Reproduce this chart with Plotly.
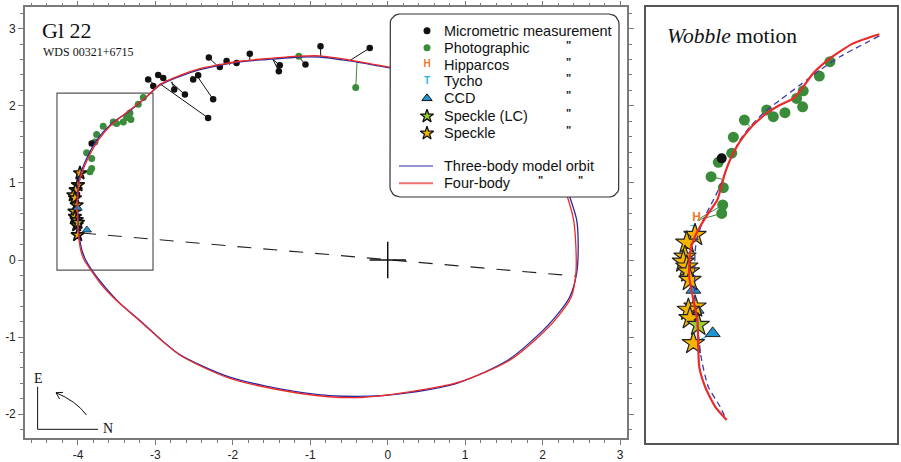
import numpy as np
import plotly.graph_objects as go

W, H = 901, 462

# ---------------- MAIN PANEL DATA (arcsec) ----------------
orbit3_x = [0.026, 0.41, 0.80, 1.19, 1.57, 1.90, 2.12, 2.26, 2.35, 2.44, 2.46, 2.44, 2.35, 2.13, 1.87,
            1.55, 0.92, 0.28, -0.40, -1.10, -2.04, -2.68, -2.92, -3.16, -3.48, -3.66, -3.80, -3.90, -3.95,
            -3.975, -3.990, -4.002, -4.010, -4.000, -3.974, -3.930, -3.867, -3.759, -3.565, -3.351, -3.135,
            -2.942, -2.684, -2.426, -2.168, -1.910, -1.565, -1.135, -0.877, -0.490, 0.026]
orbit3_y = [2.491, 2.42, 2.31, 2.16, 1.94, 1.68, 1.36, 1.06, 0.82, 0.52, 0.17, -0.17, -0.48, -0.78, -1.04,
            -1.30, -1.59, -1.72, -1.77, -1.72, -1.52, -1.23, -1.04, -0.82, -0.54, -0.34, -0.16, 0.0, 0.13,
            0.25, 0.36, 0.58, 0.80, 0.97, 1.10, 1.22, 1.36, 1.554, 1.771, 1.921, 2.095,
            2.267, 2.383, 2.470, 2.526, 2.569, 2.600, 2.633, 2.633, 2.582, 2.491]

orbit4_x = [0.026, 0.41, 0.80, 1.19, 1.57, 1.88, 2.09, 2.23, 2.32, 2.40, 2.43, 2.43, 2.37, 2.16, 1.89,
            1.56, 0.92, 0.28, -0.40, -1.10, -2.04, -2.68, -2.93, -3.19, -3.51, -3.69, -3.82, -3.92, -3.965,
            -3.985, -3.997, -4.005, -4.005, -3.990, -3.960, -3.915, -3.855, -3.745, -3.560, -3.350, -3.130,
            -2.940, -2.684, -2.426, -2.168, -1.910, -1.565, -1.135, -0.877, -0.490, 0.026]
orbit4_y = [2.500, 2.43, 2.315, 2.16, 1.935, 1.675, 1.36, 1.06, 0.82, 0.52, 0.17, -0.17, -0.48, -0.78, -1.05,
            -1.31, -1.585, -1.71, -1.785, -1.735, -1.535, -1.235, -1.035, -0.80, -0.52, -0.33, -0.15, 0.0, 0.13,
            0.25, 0.36, 0.58, 0.80, 0.97, 1.10, 1.22, 1.35, 1.545, 1.765, 1.928, 2.105,
            2.278, 2.395, 2.482, 2.535, 2.578, 2.612, 2.645, 2.648, 2.594, 2.500]

apsides_x = [-3.948, 2.419]
apsides_y = [0.350, -0.208]

micro_x = [-3.093, -3.028, -2.964, -2.899, -2.757, -2.619, -2.319, -2.512, -2.448, -2.254, -2.310,
           -2.168, -2.081, -1.952, -1.781, -1.394, -1.406, -1.062, -0.868, -0.232, -3.823, -3.987]
micro_y = [2.341, 2.258, 2.400, 2.361, 2.211, 2.146, 1.843, 2.341, 2.396, 2.085, 2.626,
           2.504, 2.582, 2.556, 2.677, 2.526, 2.448, 2.535, 2.772, 2.750, 1.512, 1.131]
micro_cx = [-3.019, -3.058, -2.877, -2.852, -2.787, -2.800, -2.942, -2.529, -2.465, -2.477, -2.181,
            -2.142, -2.039, -1.948, -1.781, -1.484, -1.484, -1.135, -0.865, -0.490, -3.823, -3.987]
micro_cy = [2.280, 2.241, 2.319, 2.325, 2.312, 2.306, 2.286, 2.390, 2.416, 2.409, 2.500,
            2.513, 2.532, 2.552, 2.584, 2.604, 2.604, 2.620, 2.639, 2.587, 1.512, 1.131]

photo_x = [-3.157, -3.222, -3.329, -3.372, -3.316, -3.415, -3.501, -3.545, -3.674, -3.759, -3.781,
           -3.888, -3.823, -3.823, -3.845, -1.148, -0.413]
photo_y = [2.108, 2.021, 1.908, 1.848, 1.823, 1.791, 1.771, 1.791, 1.736, 1.628, 1.532,
           1.390, 1.317, 1.188, 1.144, 2.642, 2.237]
photo_cx = [-3.157, -3.222, -3.329, -3.372, -3.316, -3.415, -3.501, -3.545, -3.674, -3.759, -3.781,
            -3.888, -3.823, -3.823, -3.975, -1.148, -0.396]
photo_cy = [2.108, 2.021, 1.908, 1.848, 1.823, 1.791, 1.771, 1.791, 1.736, 1.628, 1.532,
            1.390, 1.317, 1.188, 1.110, 2.642, 2.575]

speckle_x = [-3.974, -4.000, -4.030, -4.060, -4.039, -4.017, -4.045, -4.039, -4.017, -4.017, -4.004]
speckle_y = [1.127, 0.972, 0.907, 0.842, 0.803, 0.712, 0.630, 0.561, 0.518, 0.453, 0.324]
speckleLC_x = [-4.000]
speckleLC_y = [0.485]
ccd_x = [-4.004, -3.885]
ccd_y = [0.674, 0.390]
ccd_cx = [-4.004, -3.990]
ccd_cy = [0.674, 0.330]
hip_x, hip_y = [-3.980], [1.135]
tyc_x, tyc_y = [-3.995], [1.010]
primary_x, primary_y = [0.0], [0.0]

# zoom box (main panel)
box_x = [-4.271, -3.031]
box_y = [-0.130, 2.166]

x_tickvals = [-4, -3, -2, -1, 0, 1, 2, 3]
x_ticktext = ['-4', '-3', '-2', '-1', '0', '1', '2', '3']
y_tickvals = [-2, -1, 0, 1, 2, 3]
y_ticktext = ['-2', '-1', '0', '1', '2', '3']

# ---------------- WOBBLE PANEL DATA ----------------
wob4_x = [-3.118, -3.248, -3.364, -3.447, -3.497, -3.546, -3.613, -3.679, -3.746, -3.795, -3.828,
          -3.862, -3.887, -3.903, -3.925, -3.970, -4.011, -4.044, -4.061, -4.065, -4.044, -4.024,
          -4.020, -4.015, -3.986, -3.936, -3.878]
wob4_y = [2.017, 1.969, 1.890, 1.812, 1.741, 1.680, 1.645, 1.602, 1.540, 1.479, 1.426,
          1.356, 1.286, 1.225, 1.146, 1.076, 1.006, 0.936, 0.866, 0.743, 0.621, 0.516,
          0.394, 0.271, 0.166, 0.061, -0.009]
wob3_x = [-3.118, -3.314, -3.414, -3.513, -3.613, -3.696, -3.762, -3.812, -3.862, -3.887, -3.912,
          -3.953, -3.995, -4.028, -4.036, -4.036, -4.020, -4.003, -3.970, -3.911, -3.887]
wob3_y = [2.008, 1.899, 1.829, 1.750, 1.671, 1.602, 1.531, 1.461, 1.356, 1.286, 1.216,
          1.129, 1.041, 0.936, 0.866, 0.621, 0.446, 0.306, 0.166, 0.061, 0.008]
wphoto_x = [-3.364, -3.417, -3.497, -3.500, -3.530, -3.588, -3.646, -3.679, -3.790, -3.845, -3.853,
            -3.920, -3.956, -3.895, -3.898, -3.903]
wphoto_y = [1.873, 1.797, 1.720, 1.636, 1.680, 1.605, 1.584, 1.619, 1.566, 1.476, 1.392,
            1.344, 1.269, 1.211, 1.120, 1.076]
wphoto_cx = [-3.364, -3.417, -3.497, -3.500, -3.530, -3.588, -3.646, -3.679, -3.762, -3.845, -3.853,
             -3.920, -3.900, -3.895, -4.020, -4.025]
wphoto_cy = [1.873, 1.797, 1.720, 1.636, 1.680, 1.605, 1.584, 1.619, 1.531, 1.476, 1.392,
             1.344, 1.255, 1.211, 1.045, 1.040]
wmicro_x, wmicro_y = [-3.903], [1.365]
wspeckle_x = [-4.036, -4.077, -4.086, -4.094, -4.077, -4.069, -4.061, -4.036, -4.069, -4.061, -4.044]
wspeckle_y = [0.962, 0.922, 0.848, 0.822, 0.796, 0.770, 0.726, 0.586, 0.569, 0.525, 0.394]
wspeckleLC_x, wspeckleLC_y = [-4.020], [0.490]
wccd_x = [-4.044, -4.028, -3.948]
wccd_y = [0.674, 0.569, 0.446]
wccd_cx = [-4.044, -4.028, -4.044]
wccd_cy = [0.674, 0.569, 0.394]
whip_x, whip_y = [-4.028], [1.052]
wtyc_x, wtyc_y = [-4.045], [0.985]

# ---------------- helpers ----------------
def seg(x0, y0, x1, y1):
    xs, ys = [], []
    for a, b, c, d in zip(x0, y0, x1, y1):
        xs += [a, c, None]
        ys += [b, d, None]
    return xs, ys

BLACK = '#111111'
GREEN = '#3a8c3a'
GOLD = '#f5b400'
LCG = '#9acd32'
CCD = '#1e94d2'
HIPC = '#f07a2a'
TYCC = '#1fb6ee'
BLUE = '#2a2a9e'
RED = '#ec2a2a'
SANS = 'Liberation Sans, Arial, sans-serif'
SERIF = 'Liberation Serif, Times New Roman, serif'

fig = go.Figure()

# ---- main panel traces ----
mx, my = seg(micro_x, micro_y, micro_cx, micro_cy)
fig.add_trace(go.Scatter(x=mx, y=my, mode='lines', line=dict(color=BLACK, width=1), xaxis='x', yaxis='y'))
px_, py_ = seg(photo_x, photo_y, photo_cx, photo_cy)
fig.add_trace(go.Scatter(x=px_, y=py_, mode='lines', line=dict(color=GREEN, width=1), xaxis='x', yaxis='y'))
cx_, cy_ = seg(ccd_x, ccd_y, ccd_cx, ccd_cy)
fig.add_trace(go.Scatter(x=cx_, y=cy_, mode='lines', line=dict(color=CCD, width=1), xaxis='x', yaxis='y'))
fig.add_trace(go.Scatter(x=photo_x, y=photo_y, mode='markers', marker=dict(color=GREEN, size=7), xaxis='x', yaxis='y'))
fig.add_trace(go.Scatter(x=micro_x, y=micro_y, mode='markers', marker=dict(color=BLACK, size=6.5), xaxis='x', yaxis='y'))
fig.add_trace(go.Scatter(x=tyc_x, y=tyc_y, mode='text', text=['T'], textfont=dict(color=TYCC, size=8, family=SANS), xaxis='x', yaxis='y'))
fig.add_trace(go.Scatter(x=speckle_x, y=speckle_y, mode='markers',
                         marker=dict(symbol='star', color=GOLD, size=10, line=dict(color='#111', width=1.6)), xaxis='x', yaxis='y'))
fig.add_trace(go.Scatter(x=speckleLC_x, y=speckleLC_y, mode='markers',
                         marker=dict(symbol='star', color=LCG, size=10, line=dict(color='#111', width=1.6)), xaxis='x', yaxis='y'))
fig.add_trace(go.Scatter(x=ccd_x, y=ccd_y, mode='markers',
                         marker=dict(symbol='triangle-up', color=CCD, size=8, line=dict(color='#222', width=0.8)), xaxis='x', yaxis='y'))
fig.add_trace(go.Scatter(x=hip_x, y=hip_y, mode='text', text=['H'], textfont=dict(color=HIPC, size=8, family=SANS), xaxis='x', yaxis='y'))
fig.add_trace(go.Scatter(x=orbit3_x, y=orbit3_y, mode='lines', line=dict(color=BLUE, width=1.3, shape='spline', smoothing=0.8), xaxis='x', yaxis='y'))
fig.add_trace(go.Scatter(x=orbit4_x, y=orbit4_y, mode='lines', line=dict(color=RED, width=1.3, shape='spline', smoothing=0.8), xaxis='x', yaxis='y'))
fig.add_trace(go.Scatter(x=apsides_x, y=apsides_y, mode='lines', line=dict(color='#222', width=1.1, dash='14px,12px'), xaxis='x', yaxis='y'))
fig.add_trace(go.Scatter(x=primary_x, y=primary_y, mode='markers',
                         marker=dict(symbol='cross-thin', size=26, line=dict(color='#111', width=1.5)), xaxis='x', yaxis='y'))

# ---- wobble panel traces ----
wx, wy = seg(wphoto_x, wphoto_y, wphoto_cx, wphoto_cy)
fig.add_trace(go.Scatter(x=wx, y=wy, mode='lines', line=dict(color=GREEN, width=1), xaxis='x2', yaxis='y2'))
wcx, wcy = seg(wccd_x, wccd_y, wccd_cx, wccd_cy)
fig.add_trace(go.Scatter(x=wcx, y=wcy, mode='lines', line=dict(color=TYCC, width=1.2), xaxis='x2', yaxis='y2'))
fig.add_trace(go.Scatter(x=wphoto_x, y=wphoto_y, mode='markers', marker=dict(color=GREEN, size=11), xaxis='x2', yaxis='y2'))
fig.add_trace(go.Scatter(x=wmicro_x, y=wmicro_y, mode='markers', marker=dict(color=BLACK, size=10), xaxis='x2', yaxis='y2'))
fig.add_trace(go.Scatter(x=wtyc_x, y=wtyc_y, mode='text', text=['T'], textfont=dict(color=TYCC, size=11, family=SANS), xaxis='x2', yaxis='y2'))
fig.add_trace(go.Scatter(x=wccd_x, y=wccd_y, mode='markers',
                         marker=dict(symbol='triangle-up', color=CCD, size=13, line=dict(color='#222', width=1)), xaxis='x2', yaxis='y2'))
fig.add_trace(go.Scatter(x=wspeckle_x, y=wspeckle_y, mode='markers',
                         marker=dict(symbol='star', color=GOLD, size=17, line=dict(color='#222', width=1.2)), xaxis='x2', yaxis='y2'))
fig.add_trace(go.Scatter(x=wspeckleLC_x, y=wspeckleLC_y, mode='markers',
                         marker=dict(symbol='star', color=LCG, size=17, line=dict(color='#222', width=1.2)), xaxis='x2', yaxis='y2'))
fig.add_trace(go.Scatter(x=whip_x, y=whip_y, mode='text', text=['<b>H</b>'], textfont=dict(color=HIPC, size=12, family=SANS), xaxis='x2', yaxis='y2'))
fig.add_trace(go.Scatter(x=wob3_x, y=wob3_y, mode='lines', line=dict(color='#3a3aa8', width=1.3, dash='6px,4px', shape='spline', smoothing=0.6), xaxis='x2', yaxis='y2'))
fig.add_trace(go.Scatter(x=wob4_x, y=wob4_y, mode='lines', line=dict(color=RED, width=2.2, shape='spline', smoothing=0.6), xaxis='x2', yaxis='y2'))

# ---- overlay (pixel) layer: legend box, swatches ----
def rounded_rect(x0, y0, x1, y1, r, n=7):
    xs, ys = [], []
    for cx, cy, a0, a1 in [(x1 - r, y0 + r, -90, 0), (x1 - r, y1 - r, 0, 90),
                           (x0 + r, y1 - r, 90, 180), (x0 + r, y0 + r, 180, 270)]:
        for a in np.linspace(a0, a1, n):
            t = np.radians(a)
            xs.append(cx + r * np.cos(t))
            ys.append(cy + r * np.sin(t))
    xs.append(xs[0]); ys.append(ys[0])
    return xs, ys

bx, by = rounded_rect(390, 14, 619, 197, 10)
fig.add_trace(go.Scatter(x=bx, y=by, mode='lines', fill='toself', fillcolor='white',
                         line=dict(color='#333', width=1.2), xaxis='x3', yaxis='y3'))

legend_labels = ['Micrometric measurement', 'Photographic', 'Hipparcos', 'Tycho', 'CCD',
                 'Speckle (LC)', 'Speckle', 'Three-body model orbit', 'Four-body']
row_y = [30.7, 47.7, 64.5, 81.2, 98.3, 116.2, 133.3, 166, 183.3]
SX = 427
fig.add_trace(go.Scatter(x=[SX], y=[row_y[0]], mode='markers', marker=dict(color=BLACK, size=7), xaxis='x3', yaxis='y3'))
fig.add_trace(go.Scatter(x=[SX], y=[row_y[1]], mode='markers', marker=dict(color=GREEN, size=7), xaxis='x3', yaxis='y3'))
fig.add_trace(go.Scatter(x=[SX], y=[row_y[2]], mode='text', text=['<b>H</b>'], textfont=dict(color=HIPC, size=10, family=SANS), xaxis='x3', yaxis='y3'))
fig.add_trace(go.Scatter(x=[SX], y=[row_y[3]], mode='text', text=['<b>T</b>'], textfont=dict(color=TYCC, size=10, family=SANS), xaxis='x3', yaxis='y3'))
fig.add_trace(go.Scatter(x=[SX], y=[row_y[4]], mode='markers',
                         marker=dict(symbol='triangle-up', color=CCD, size=9, line=dict(color='#111', width=1)), xaxis='x3', yaxis='y3'))
fig.add_trace(go.Scatter(x=[SX], y=[row_y[5]], mode='markers',
                         marker=dict(symbol='star', color=LCG, size=10, line=dict(color='#111', width=1.3)), xaxis='x3', yaxis='y3'))
fig.add_trace(go.Scatter(x=[SX], y=[row_y[6]], mode='markers',
                         marker=dict(symbol='star', color=GOLD, size=10, line=dict(color='#111', width=1.3)), xaxis='x3', yaxis='y3'))
fig.add_trace(go.Scatter(x=[399, 433], y=[row_y[7]] * 2, mode='lines', line=dict(color=BLUE, width=1.2), xaxis='x3', yaxis='y3'))
fig.add_trace(go.Scatter(x=[399, 433], y=[row_y[8]] * 2, mode='lines', line=dict(color='#f07070', width=2), xaxis='x3', yaxis='y3'))

annotations = []
for lab, yy in zip(legend_labels, row_y):
    annotations.append(dict(x=442, y=yy, xref='x3', yref='y3', text=lab, showarrow=False,
                            xanchor='left', yanchor='middle', font=dict(family=SANS, size=14.5, color='#111')))
for yy in row_y[1:7]:
    annotations.append(dict(x=568, y=yy - 3, xref='x3', yref='y3', text='<b>"</b>', showarrow=False,
                            xanchor='center', yanchor='middle', font=dict(family=SANS, size=11, color='#222')))
for xx in [540, 580]:
    annotations.append(dict(x=xx, y=row_y[8] - 3, xref='x3', yref='y3', text='<b>"</b>', showarrow=False,
                            xanchor='center', yanchor='middle', font=dict(family=SANS, size=11, color='#222')))

annotations += [
    dict(x=40, y=30, xref='x3', yref='y3', text='Gl 22', showarrow=False, xanchor='left', yanchor='middle',
         font=dict(family=SERIF, size=22, color='#111')),
    dict(x=41, y=51.5, xref='x3', yref='y3', text='WDS 00321+6715', showarrow=False, xanchor='left', yanchor='middle',
         font=dict(family=SERIF, size=12, color='#111')),
    dict(x=665, y=36, xref='x3', yref='y3', text='<i>Wobble</i> motion', showarrow=False, xanchor='left', yanchor='middle',
         font=dict(family=SERIF, size=21.5, color='#111')),
    dict(x=38.5, y=378, xref='x3', yref='y3', text='E', showarrow=False, xanchor='center', yanchor='middle',
         font=dict(family=SERIF, size=14, color='#111')),
    dict(x=108, y=428.5, xref='x3', yref='y3', text='N', showarrow=False, xanchor='center', yanchor='middle',
         font=dict(family=SERIF, size=14, color='#111')),
]

shapes = [
    dict(type='rect', xref='x', yref='y', x0=box_x[0], x1=box_x[1], y0=box_y[0], y1=box_y[1],
         line=dict(color='#555', width=1.2), layer='below'),
    dict(type='path', xref='x3', yref='y3', path='M 37.6 386.7 L 37.6 429.3 L 98 429.3',
         line=dict(color='#111', width=1)),
    dict(type='path', xref='x3', yref='y3', path='M 86.5 415 Q 76 401 56 392.7',
         line=dict(color='#111', width=1)),
    dict(type='path', xref='x3', yref='y3', path='M 59.6 399 L 56 392.7 L 63 392.4',
         line=dict(color='#111', width=1)),
]

axis_common = dict(showline=True, linecolor='#7a7a7a', linewidth=1.6, mirror='ticks', ticks='outside',
                   ticklen=5, tickwidth=1.2, tickcolor='#7a7a7a', showgrid=False, zeroline=False,
                   tickfont=dict(family=SANS, size=12, color='#222'),
                   minor=dict(dtick=0.2, ticks='outside', ticklen=3, tickwidth=1, tickcolor='#7a7a7a', showgrid=False))

fig.update_layout(
    width=W, height=H, autosize=False, margin=dict(l=0, r=0, t=0, b=0),
    paper_bgcolor='white', plot_bgcolor='rgba(0,0,0,0)', showlegend=False,
    xaxis=dict(domain=[25 / W, 627 / W], range=[-4.684, 3.090], anchor='y',
               tickmode='array', tickvals=x_tickvals, ticktext=x_ticktext, **axis_common),
    yaxis=dict(domain=[1 - 437.7 / H, 1 - 7.3 / H], range=[-2.305, 3.278], anchor='x',
               tickmode='array', tickvals=y_tickvals, ticktext=y_ticktext, **axis_common),
    xaxis2=dict(domain=[646 / W, 897 / W], range=[-4.28, -3.03], anchor='y2', showline=True, mirror=True,
                linecolor='#555', linewidth=1.6, showticklabels=False, ticks='', showgrid=False, zeroline=False),
    yaxis2=dict(domain=[1 - 443 / H, 1 - 7 / H], range=[-0.13, 2.16], anchor='x2', showline=True, mirror=True,
                linecolor='#555', linewidth=1.6, showticklabels=False, ticks='', showgrid=False, zeroline=False),
    xaxis3=dict(domain=[0, 1], range=[0, W], anchor='y3', visible=False, fixedrange=True),
    yaxis3=dict(domain=[0, 1], range=[H, 0], anchor='x3', visible=False, fixedrange=True),
    annotations=annotations, shapes=shapes,
)

fig.write_html('out.html', config={'displayModeBar': False},
               post_script="document.body.style.margin='0';document.body.style.overflow='hidden';")
